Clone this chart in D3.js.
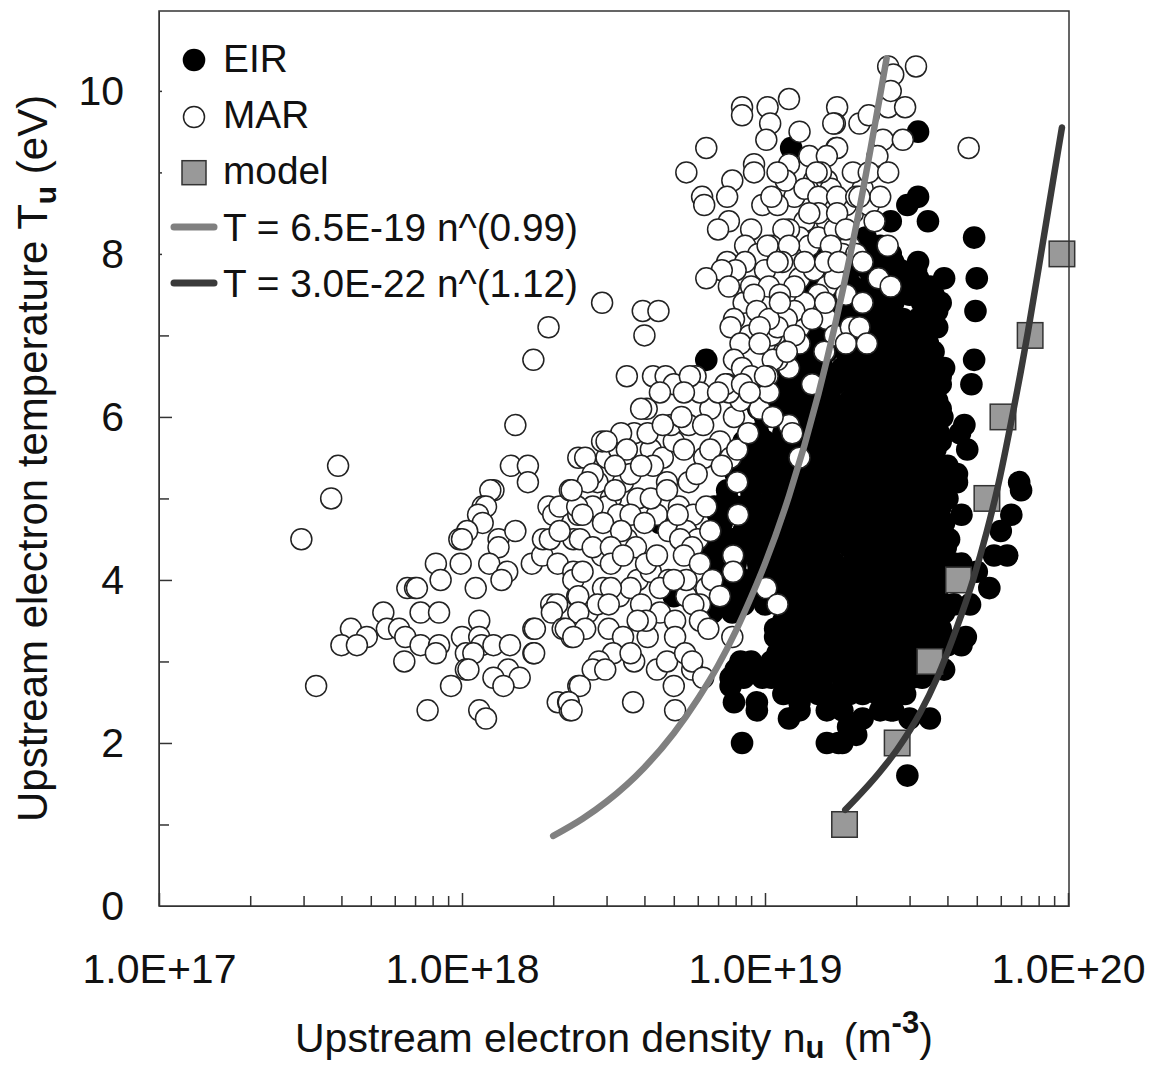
<!DOCTYPE html>
<html>
<head>
<meta charset="utf-8">
<script src="https://d3js.org/d3.v7.min.js"></script>
<style>
  html, body { margin: 0; background: #fff; }
  text { font-family: "Liberation Sans", Arial, sans-serif; fill: #111; }
  .axis path, .axis line { stroke: #333; }
  .axis line { stroke-width: 1.5; }
  .axis text { font-size: 41px; }
  .x-title { font-size: 41px; }
  .y-title { font-size: 42px; }
  .legend-label { font-size: 38.8px; }
</style>
</head>
<body>
<svg id="chart"></svg>
<script>
const width = 1165;
const height = 1066;

margin = {
  top: 11,
  bottom: 160,
  left: 159,
  right: 96
};

// density values are in units of 1E18 m^-3
const densityUnit = 1e18;

const xMajorTicks = [1e17, 1e18, 1e19, 1e20];
const xTickLabels = ["1.0E+17", "1.0E+18", "1.0E+19", "1.0E+20"];
const yTicks = [0, 1, 2, 3, 4, 5, 6, 7, 8, 9, 10];
const yTickLabels = ["0", "", "2", "", "4", "", "6", "", "8", "", "10"];
// the original has short ticks near the top of the axis
const yTickLengths = [0, 10, 13, 10, 13, 10, 13, 10, 3, 3, 3];

// [n, T]
const modelPoints = [
  [18.3, 1], [27.3, 2], [35, 3], [43.5, 4], [54, 5],
  [61, 6], [75, 7], [95.5, 8]
];

const fitMarCurve = [
  [2, 0.86], [2.5, 1.07], [3, 1.28], [4, 1.7], [5, 2.12], [6, 2.54], [7, 2.95],
  [8, 3.37], [9, 3.79], [10, 4.2], [12, 5.03], [15, 6.28], [20, 8.35], [25.2, 10.4]
];

const fitEirCurve = [
  [18.4, 1.18], [24, 1.65], [27.3, 1.92], [32.5, 2.37], [37, 2.8], [43, 3.42],
  [48.6, 4.0], [54, 4.6], [58.3, 5.1], [65.8, 6.05], [73.8, 7.05], [82.7, 8.15],
  [89.3, 8.9], [95.5, 9.55]
];

// rows of the dense EIR cloud: one T value, then the densities seen on that row
const eirRowT = [
  8.0, 7.8, 7.6, 7.5, 7.4, 7.2, 7.1, 7.0, 6.9, 6.8, 6.6, 6.5, 6.4, 6.2, 6.1, 6.0,
  5.8, 5.7, 5.6, 5.4, 5.3, 5.2, 5.0, 4.9, 4.8, 4.6, 4.5, 4.4, 4.2, 4.1, 4.0,
  3.8, 3.7, 3.6, 3.4, 3.3, 3.2, 3.0, 2.9, 2.8, 2.6,
  6.7, 6.3, 5.5, 5.1, 4.7, 4.3, 3.9, 3.5, 3.1
];
const eirRowN = [
  [15.5, 18, 20.5, 23, 26],
  [16.5, 19, 22, 25, 28, 31.5],
  [14.5, 16.8, 19.5, 22, 25, 28, 31, 35],
  [16, 18.5, 21, 24, 27, 30, 33.5],
  [14, 16, 18.5, 21, 24, 26.5, 33, 38],
  [13, 15, 17.5, 20, 22.5, 25.5, 28.5, 32, 36],
  [13.5, 15.5, 18, 20.5, 23, 26, 29, 32.5, 37],
  [12.5, 14.5, 17, 19, 21.5, 24, 27, 30.5, 34],
  [12.8, 15, 17.5, 20, 22.5, 25, 28, 31, 34.5],
  [12, 14, 16, 18.5, 21, 23.5, 26.5, 29.5, 33, 36],
  [11.5, 13.5, 15.5, 18, 20, 22.5, 25.5, 28.5, 32, 35.5, 39],
  [10.8, 12.3, 14.5, 16.5, 19, 21, 23.5, 26.5, 30, 33.5, 36.5],
  [11, 13, 15, 17, 19.5, 22, 24.5, 27.5, 31, 34.5, 38],
  [10.5, 12.5, 14.5, 16.5, 19, 21, 24, 27, 30, 33, 37],
  [9.5, 11, 13, 15, 17.5, 20, 22.5, 25, 28, 31, 34.5, 38],
  [10, 12, 14, 16, 18, 20.5, 23, 26, 29, 32, 35.5, 38.5],
  [9.5, 11.5, 13.5, 15.5, 17.5, 20, 22.5, 25, 28, 31, 34.5, 37.5],
  [8.5, 10, 12, 14, 16, 18, 20.5, 23, 26, 29, 32, 35, 38],
  [9, 11, 13, 15, 17, 19, 21.5, 24, 27, 30, 33, 36.5],
  [8.5, 10, 12, 14, 16, 18, 20.5, 23, 26, 29, 32, 35.5, 38],
  [8, 9.2, 11, 13, 15, 17, 19, 21.5, 24, 27, 30, 33, 36.5],
  [8.5, 10, 12, 14, 16, 18, 20, 22.5, 25, 28, 31, 34.5, 38],
  [7.5, 9, 10.5, 12.5, 14.5, 16.5, 19, 21.5, 24, 27, 30, 33.5, 37],
  [6.8, 8, 9.5, 11, 13, 15, 17, 20, 22.5, 25, 28, 31, 35, 38],
  [7, 8.5, 10, 12, 14, 16, 18, 20.5, 23, 25.5, 28.5, 32, 36],
  [7, 8.5, 10, 12, 13.5, 15.5, 17.5, 20, 22, 25, 28, 31, 34.5, 37.5],
  [6.5, 7.8, 9.5, 11, 13, 15, 17, 19, 21, 24, 26.5, 29.5, 33, 36.5, 40.5],
  [6.3, 7.5, 9, 10.5, 12.5, 14.5, 16.5, 19, 21.5, 24, 27, 30, 33, 36.5, 39.5],
  [6.5, 8, 9.5, 11, 13, 15, 17, 19.5, 22, 25, 28, 31, 34.5, 38, 42],
  [7, 8, 9.5, 11, 12.5, 14.5, 16.5, 19, 21.5, 24, 27, 30, 33, 37, 41, 45],
  [7, 8.5, 10.5, 12, 14, 16, 18, 20.5, 23, 26, 29, 32, 36, 40, 44],
  [8, 9.5, 11.5, 13, 15, 17, 19, 21.5, 24, 27, 30, 33.5, 37],
  [7.5, 8.5, 10, 12, 13.5, 15.5, 18, 20, 22.5, 25, 28, 31, 35, 39, 42],
  [6.7, 7.8, 12.5, 14, 16, 18, 20.5, 23, 25.5, 28.5, 32, 35.5, 39],
  [10.8, 12, 13.5, 15.5, 17.5, 19.5, 22, 24.5, 27.5, 31, 34, 38],
  [11, 12.5, 14, 16, 18, 20.5, 23, 26, 29, 32.5, 36, 39],
  [11.5, 13, 15, 17, 19, 21, 23.5, 26, 29.5, 33, 36, 40],
  [10.5, 12.5, 14.5, 16, 18.5, 20.5, 23, 25.5, 28, 31, 35],
  [8, 9.5, 11, 13, 15, 17, 19, 21, 23.5, 26, 29, 32, 36],
  [8.5, 10.5, 12, 14, 15.5, 18, 20, 22, 24.5, 27, 30.5, 33],
  [11.5, 13, 15, 17, 19, 21, 23.5, 26, 29],
  [11.5, 13, 15],
  [10, 11.5, 13.5, 15.5],
  [9.5, 10.5, 11.5, 13, 14.5],
  [7.5, 9, 10.8, 12.8, 14.5],
  [7.2, 9, 11, 12.5, 14.5],
  [6.8, 8.2, 10, 11.5, 13.5],
  [7.5, 9, 10.8, 12.5, 14],
  [11.5, 13, 15],
  [11, 12, 14, 15.5]
];

// EIR points that stand apart from the cloud
const eirSingles = [
  [32, 9.5], [12.2, 9.3], [32, 8.7], [29.5, 8.6], [26, 8.4], [34.5, 8.4], [49, 8.2],
  [21.5, 8.2], [24, 8.1], [26.5, 7.9], [16.5, 7.6], [15, 8.0], [32, 7.9], [39, 7.7],
  [32, 7.7], [50, 7.7], [36, 7.5], [37, 7.3], [49.5, 7.3], [36, 7.1], [34, 6.9],
  [49, 6.7], [6.4, 6.7], [38, 6.5], [37, 6.4], [48, 6.4], [34.5, 6.2], [45.5, 5.9],
  [44, 5.8], [46.5, 5.6], [40, 5.4], [43, 5.3], [43, 5.2], [69, 5.2], [70, 5.1],
  [40, 5.0], [44.5, 4.8], [65, 4.8], [39, 4.7], [4.5, 4.7], [60, 4.6], [38, 4.3],
  [63, 4.3], [57, 4.3], [44.5, 4.2], [50, 4.1], [55, 3.9], [5, 3.8], [47.5, 3.7],
  [46, 3.3], [44.5, 3.2], [39, 2.9], [7.7, 2.8], [7.7, 2.7], [25, 2.5], [7.9, 2.5],
  [9.4, 2.5], [13, 2.5], [9.4, 2.4], [13, 2.4], [16, 2.4], [18, 2.4], [24, 2.4],
  [26, 2.4], [26.5, 2.4], [12, 2.3], [21, 2.3], [30, 2.3], [35, 2.3], [18.8, 2.2],
  [20, 2.1], [8.4, 2.0], [16, 2.0], [17.5, 2.0], [18, 2.0], [29.5, 1.6],
  [8.3, 3.0], [9, 3.0], [9.8, 2.8], [10.8, 3.3], [11.3, 3.0], [12.4, 3.1], [13.7, 2.8]
];

const marPoints = [
  [0.39, 5.4], [0.37, 5.0], [0.295, 4.5], [0.33, 2.7], [1.5, 5.9], [1.45, 5.4],
  [1.65, 5.4], [1.65, 5.2], [1.72, 6.7], [1.93, 7.1], [1.27, 5.1], [1.24, 5.1],
  [1.17, 4.9], [1.2, 4.9], [1.13, 4.8], [1.17, 4.7], [1.04, 4.6], [0.98, 4.5],
  [1.0, 4.5], [1.32, 4.5], [1.5, 4.6], [1.32, 4.4], [0.82, 4.2], [0.99, 4.2],
  [1.23, 4.2], [1.41, 4.1], [0.85, 4.0], [1.35, 4.0], [1.11, 3.9], [0.66, 3.9],
  [0.7, 3.9], [0.71, 3.9], [0.73, 3.6], [0.84, 3.6], [0.55, 3.6], [0.43, 3.4],
  [0.565, 3.4], [0.62, 3.4], [0.485, 3.3], [0.4, 3.2], [0.45, 3.2], [0.65, 3.3],
  [0.73, 3.2], [0.84, 3.2], [0.82, 3.1], [0.645, 3.0], [1.14, 3.5], [1.0, 3.3],
  [1.14, 3.3], [1.16, 3.2], [1.27, 3.2], [1.44, 3.2], [1.03, 3.1], [1.09, 3.1],
  [1.03, 2.9], [1.05, 2.9], [1.42, 2.9], [1.27, 2.8], [1.55, 2.8], [1.37, 2.7],
  [0.92, 2.7], [0.77, 2.4], [1.14, 2.4], [1.2, 2.3], [1.72, 3.4], [1.74, 3.4],
  [1.72, 3.1], [1.73, 3.1], [1.97, 3.7], [2.06, 3.7], [1.98, 3.6], [2.15, 3.4],
  [2.3, 3.3], [2.4, 3.8], [2.07, 2.5], [2.24, 2.5], [2.27, 2.4], [2.42, 2.7],
  [1.7, 4.2], [1.84, 4.3], [2.07, 4.2], [2.33, 4.1], [2.33, 4.0], [1.85, 4.5],
  [1.95, 4.5], [2.33, 4.5], [1.93, 4.9], [2.0, 4.8], [2.1, 4.9], [2.27, 5.1],
  [2.42, 4.8], [2.1, 4.6], [2.42, 5.5],
  // these sit under the front layer of the dense part
  [3, 5.5], [3.3, 5.6], [3.7, 5.8], [3.1, 5.0], [3.4, 5.2], [3.8, 5.0], [4.2, 5.6],
  [4.6, 5.5], [5, 5.7], [5.4, 5.6], [5.6, 5.2], [6.3, 5.5], [5.2, 4.9], [5.8, 4.8],
  [6.4, 4.9], [4.4, 4.8], [4.8, 4.6], [5.5, 4.6], [6, 4.5], [3.5, 4.5], [3, 4.9],
  [2.7, 4.9], [2.9, 4.3], [3.3, 3.8], [3.8, 4.0], [4.2, 4.1], [4.8, 4.0], [5.5, 3.8],
  [4.5, 3.6], [4.1, 3.3], [3.7, 3.0], [2.6, 3.6], [2.4, 4.9], [2.8, 5.2], [3.6, 5.3],
  [4.1, 5.8], [4.9, 5.9], [5.6, 5.9], [6.6, 6.1], [7.1, 5.7], [7.7, 5.5], [6.4, 3.9],
  [13, 7.7], [14.5, 7.8], [16, 7.6], [17, 7.7], [18.5, 7.5], [15, 7.5], [14, 7.3],
  [16, 7.2], [13, 7.1], [17, 7.0], [10.8, 7.0], [12, 6.6], [11, 6.7],
  [13, 9.0], [14, 9.2], [14.5, 8.9], [16, 8.9], [16.5, 8.8], [12.5, 8.7], [13.5, 8.4],
  [16, 8.4], [13, 8.2], [14, 8.1], [15, 8.2], [17, 8.3], [19.5, 8.5], [21, 8.8],
  [22, 8.6], [23, 8.4], [19, 8.1], [18, 8.0], [20, 8.0], [9.8, 8.6], [9, 8.3],
  [8.6, 8.1], [9.5, 8.0], [10, 7.8], [8.5, 7.4], [8.9, 7.0], [10, 6.9], [10.5, 7.0],
  [13.5, 7.4], [12.5, 7.3], [11.8, 7.2], [11, 7.1], [13, 6.9],
  [4.07, 6.1], [3.9, 6.1], [5.3, 6.0], [4.6, 5.9], [6.25, 5.9], [3.35, 5.8],
  [2.9, 5.7], [3.0, 5.7], [3.5, 5.6], [2.55, 5.5], [6.6, 5.6], [8.1, 5.6],
  [3.2, 5.4], [4.27, 5.4], [3.9, 5.4], [7.2, 5.4], [2.7, 5.3], [5.95, 5.3],
  [2.6, 5.2], [4.75, 5.2], [8.1, 5.2], [2.3, 5.1], [3.2, 5.1], [4.2, 5.0],
  [4.75, 5.1], [2.5, 4.8], [3.27, 4.8], [3.6, 4.8], [2.92, 4.7], [5.15, 4.8],
  [4.0, 4.7], [3.35, 4.6], [8.15, 4.8], [6.6, 4.6], [5.25, 4.5], [2.45, 4.5],
  [2.7, 4.4], [3.1, 4.4], [3.75, 4.4], [5.75, 4.4], [7.85, 4.3], [3.1, 4.2],
  [4.05, 4.2], [3.4, 4.3], [4.4, 4.3], [2.5, 4.1], [5.4, 4.3], [6.1, 4.2],
  [7.85, 4.1], [5.5, 4.0], [6.7, 4.0], [3.6, 3.9], [2.92, 3.9], [3.1, 3.9],
  [4.5, 3.9], [2.42, 3.8], [5.0, 4.0], [10.1, 3.9], [7.1, 3.8], [2.8, 3.7],
  [3.9, 3.7], [3.05, 3.7], [11, 3.7], [2.42, 3.6], [6.1, 3.7], [5.8, 3.7],
  [5.05, 3.5], [6.1, 3.5], [2.2, 3.4], [2.55, 3.4], [3.05, 3.4], [3.4, 3.3],
  [4.05, 3.5], [3.8, 3.5], [5.05, 3.3], [6.5, 3.4], [7.8, 3.3], [2.33, 3.3],
  [3.15, 3.1], [3.6, 3.1], [2.83, 3.0], [2.7, 2.9], [2.97, 2.9], [4.4, 2.9],
  [4.75, 3.0], [5.75, 2.9], [5.45, 3.1], [5.75, 3.0], [6.25, 2.8], [5.0, 2.7],
  [2.45, 2.7], [2.25, 2.5], [2.3, 2.4], [3.67, 2.5], [5.05, 2.4],
  [2.9, 7.4], [3.95, 7.3], [4.45, 7.3], [4.0, 7.0], [3.5, 6.5], [4.27, 6.5],
  [4.7, 6.5], [5.0, 6.4], [5.9, 6.5], [5.5, 9.0], [6.4, 9.3], [6.2, 8.7],
  [6.3, 8.6], [7.8, 8.9], [7.5, 8.7], [7.6, 8.4], [7.0, 8.3], [9.2, 9.1],
  [9.2, 9.0], [8.4, 9.8], [8.4, 9.7], [10.2, 9.8], [12, 9.9], [10.4, 9.6],
  [10.1, 9.4], [13, 9.5], [17.3, 9.8], [17, 9.6], [16.8, 9.6], [17.2, 9.3],
  [17.3, 9.3], [16, 9.2], [15.3, 9.0], [12, 9.1], [11.7, 8.9], [11, 9.0],
  [19.5, 9.0], [20.5, 9.6], [13.5, 8.8], [15, 8.7], [11, 8.6], [10.5, 8.7],
  [18.5, 8.6], [17.3, 8.7], [15, 8.5], [17.3, 8.5], [20, 8.7], [14, 8.5],
  [18.5, 8.3], [12, 8.3], [11.5, 8.3], [10.5, 8.1], [10.2, 8.1], [12, 8.1],
  [16.5, 8.1], [11.4, 7.9], [13.5, 7.9], [15.8, 7.9], [17.5, 7.9], [11, 7.9],
  [7.5, 7.9], [8.6, 7.9], [8, 7.8], [7.2, 7.8], [6.4, 7.7], [7.6, 7.6],
  [9, 7.6], [12.5, 7.6], [10.3, 7.6], [11.2, 7.5], [15.8, 7.4], [9.2, 7.5],
  [9.4, 7.3], [7.9, 7.2], [10.3, 7.2], [14.3, 7.2], [19.2, 7.1], [7.7, 7.1],
  [9.6, 7.1], [11.2, 7.4], [12.5, 7.0], [8.3, 6.9], [10.6, 6.7], [11.8, 6.8],
  [9.6, 6.9], [7.9, 6.7], [8.4, 6.6], [9, 6.5], [7.5, 6.4], [10.2, 6.5],
  [22, 9.7], [25.5, 9.8], [29, 9.8], [24.5, 9.4], [28.5, 9.4], [47, 9.3],
  [23.5, 9.2], [14.8, 9.0], [22, 9.0], [25.5, 9.0], [24, 8.7], [20.5, 8.7],
  [25.4, 8.1], [21, 7.9], [23.7, 7.7], [26, 7.6], [21, 7.4], [20.5, 7.1],
  [18.5, 6.9], [21.7, 6.9], [15.7, 6.8], [14.3, 6.4], [12, 5.9], [12.3, 5.8],
  [13, 5.5], [9.6, 6.1], [10.6, 6.0], [8.8, 5.8], [7.9, 6.0], [8.3, 6.2],
  [10.3, 6.3], [6.1, 6.3], [7.6, 6.3], [4.5, 6.3], [5.65, 6.5], [5.4, 6.3],
  [7.4, 6.4], [7, 6.3], [8.4, 6.4], [8.9, 6.3], [10, 6.5], [25.5, 10.3],
  [26.5, 10.2], [31.5, 10.3], [26, 10.0]
];

const eirPoints = [];
eirRowT.forEach((t, i) => eirRowN[i].forEach(n => eirPoints.push([n, t])));
eirSingles.forEach(p => eirPoints.push(p));

const legendMarkerX = 194;
const legendTextX = 223;

const plotWidth = width - margin.left - margin.right;
const plotHeight = height - margin.top - margin.bottom;

const svg = d3.select("#chart")
  .attr("width", width)
  .attr("height", height)
  .style("display", "block");

const plot = svg.append("g").attr("id", "plot")
  .attr("transform", translate(margin.left, margin.top));

const xScale = d3.scaleLog()
  .domain([1e17, 1.0076e20])
  .range([0, plotWidth]);

const yScale = d3.scaleLinear()
  .domain([0, 10.98])
  .range([plotHeight, 0]);

const line = d3.line()
  .x(d => xScale(d[0] * densityUnit))
  .y(d => yScale(d[1]))
  .curve(d3.curveMonotoneX);

drawBubbles();
drawModel();
drawCurves();
drawAxis();
drawLegend();
drawTitles();

function drawBubbles() {
  plot.append("g").attr("id", "eir")
    .selectAll("circle")
    .data(eirPoints)
    .enter()
    .append("circle")
    .attr("cx", d => xScale(d[0] * densityUnit))
    .attr("cy", d => yScale(d[1]))
    .attr("r", 11.3)
    .style("fill", "#000");

  plot.append("g").attr("id", "mar")
    .selectAll("circle")
    .data(marPoints)
    .enter()
    .append("circle")
    .attr("cx", d => xScale(d[0] * densityUnit))
    .attr("cy", d => yScale(d[1]))
    .attr("r", 10.5)
    .style("fill", "#fff")
    .style("stroke", "#222")
    .style("stroke-width", 1.5);
}

function drawModel() {
  plot.append("g").attr("id", "model")
    .selectAll("rect")
    .data(modelPoints)
    .enter()
    .append("rect")
    .attr("x", d => xScale(d[0] * densityUnit) - 12.75)
    .attr("y", d => yScale(d[1]) - 12.75)
    .attr("width", 25.5)
    .attr("height", 25.5)
    .style("fill", "#999")
    .style("stroke", "#333")
    .style("stroke-width", 1.5);
}

function drawCurves() {
  plot.append("path").datum(fitMarCurve)
    .attr("d", line)
    .style("fill", "none")
    .style("stroke", "#808080")
    .style("stroke-width", 6.5)
    .style("stroke-linecap", "round");

  plot.append("path").datum(fitEirCurve)
    .attr("d", line)
    .style("fill", "none")
    .style("stroke", "#3a3a3a")
    .style("stroke-width", 6.5)
    .style("stroke-linecap", "round");
}

function drawAxis() {
  let xMinorTicks = [];
  xMajorTicks.slice(0, 3).forEach(base => {
    d3.range(2, 10).forEach(k => xMinorTicks.push(base * k));
  });

  let xAxis = d3.axisBottom(xScale)
    .tickValues(xMajorTicks)
    .tickSize(-13)
    .tickSizeOuter(0)
    .tickPadding(48)
    .tickFormat((d, i) => xTickLabels[i]);

  let xMinor = d3.axisBottom(xScale)
    .tickValues(xMinorTicks)
    .tickSize(-10)
    .tickSizeOuter(0)
    .tickFormat("");

  let yAxis = d3.axisLeft(yScale)
    .tickValues(yTicks)
    .tickSize(-13)
    .tickSizeOuter(0)
    .tickPadding(35)
    .tickFormat((d, i) => yTickLabels[i]);

  plot.append("g")
    .attr("id", "x-axis")
    .attr("class", "axis")
    .attr("transform", translate(0, plotHeight))
    .call(xAxis);

  plot.append("g")
    .attr("class", "axis")
    .attr("transform", translate(0, plotHeight))
    .call(xMinor)
    .select("path.domain").remove();

  let yGroup = plot.append("g")
    .attr("id", "y-axis")
    .attr("class", "axis")
    .call(yAxis);

  yGroup.selectAll(".tick line").attr("x2", (d, i) => yTickLengths[i]);

  // frame of the plot
  plot.append("rect")
    .attr("width", plotWidth)
    .attr("height", plotHeight)
    .style("fill", "none")
    .style("stroke", "#333")
    .style("stroke-width", 1.5);
}

function drawLegend() {
  let legend = svg.append("g").attr("id", "legend");

  legend.append("circle")
    .attr("cx", legendMarkerX).attr("cy", 60).attr("r", 11.3)
    .style("fill", "#000");

  legend.append("circle")
    .attr("cx", legendMarkerX).attr("cy", 117).attr("r", 10.5)
    .style("fill", "#fff").style("stroke", "#222").style("stroke-width", 1.5);

  legend.append("rect")
    .attr("x", legendMarkerX - 12).attr("y", 160.7).attr("width", 24).attr("height", 24)
    .style("fill", "#999").style("stroke", "#333").style("stroke-width", 1.5);

  legend.append("line")
    .attr("x1", 174).attr("x2", 214).attr("y1", 227).attr("y2", 227)
    .style("stroke", "#808080").style("stroke-width", 7).style("stroke-linecap", "round");

  legend.append("line")
    .attr("x1", 174).attr("x2", 214).attr("y1", 283).attr("y2", 283)
    .style("stroke", "#3a3a3a").style("stroke-width", 7).style("stroke-linecap", "round");

  let labels = [
    ["EIR", 72], ["MAR", 128], ["model", 184],
    ["T = 6.5E-19 n^(0.99)", 241], ["T = 3.0E-22 n^(1.12)", 297]
  ];

  legend.selectAll("text")
    .data(labels)
    .enter()
    .append("text")
    .attr("class", "legend-label")
    .attr("x", legendTextX)
    .attr("y", d => d[1])
    .text(d => d[0]);
}

function drawTitles() {
  let xTitle = svg.append("text")
    .attr("class", "x-title")
    .attr("x", 295)
    .attr("y", 1052);

  xTitle.append("tspan").text("Upstream electron density n");
  xTitle.append("tspan").attr("dy", 6).style("font-size", "31px").style("font-weight", "bold").text("u");
  xTitle.append("tspan").attr("dy", -6).attr("dx", 8).text(" (m");
  xTitle.append("tspan").attr("dy", -19).style("font-size", "31px").style("font-weight", "bold").text("-3");
  xTitle.append("tspan").attr("dy", 19).text(")");

  // it is easier to rotate text if you place it in a group first
  let yGroup = svg.append("g")
    .attr("transform", translate(47, 822));

  let yTitle = yGroup.append("text")
    .attr("class", "y-title")
    .attr("transform", "rotate(-90)");

  yTitle.append("tspan").text("Upstream electron temperature T");
  yTitle.append("tspan").attr("dy", 9).style("font-size", "30px").style("font-weight", "bold").text("u");
  yTitle.append("tspan").attr("dy", -9).text(" (eV)");
}

function translate(x, y) {
  return "translate(" + String(x) + "," + String(y) + ")";
}
</script>
</body>
</html>
